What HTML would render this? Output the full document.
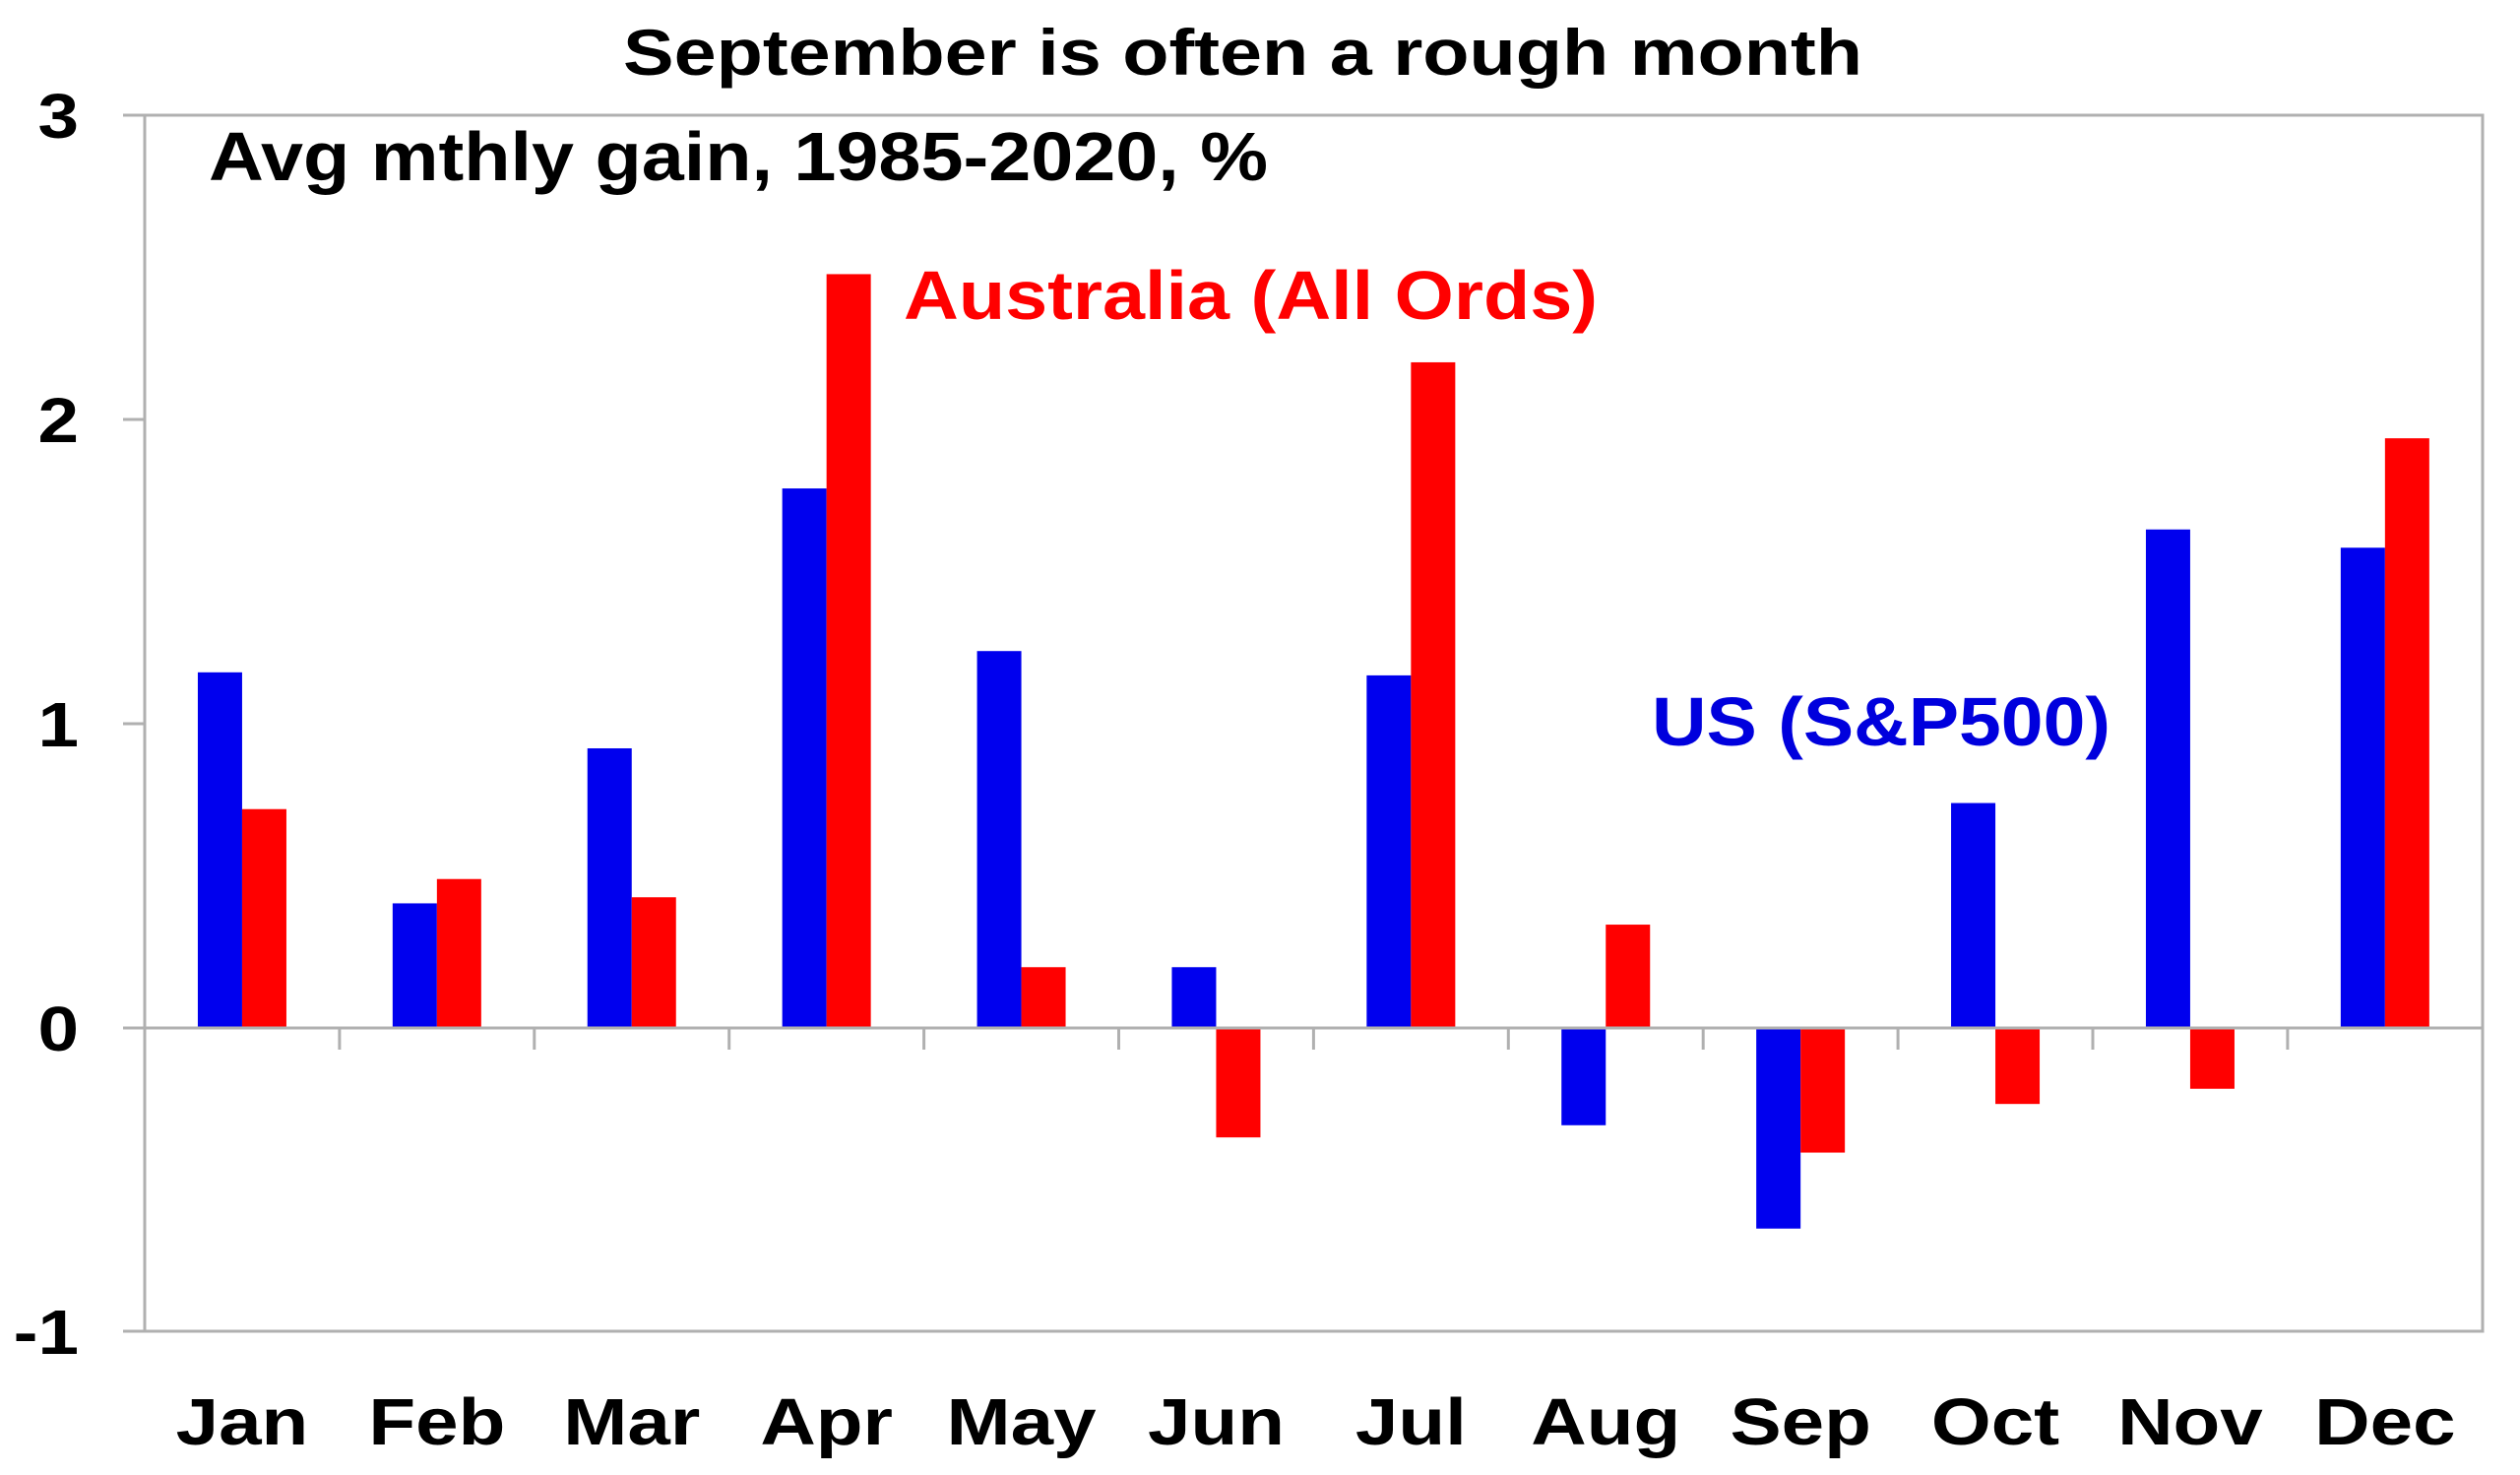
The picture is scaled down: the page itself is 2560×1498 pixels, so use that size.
<!DOCTYPE html>
<html><head><meta charset="utf-8"><style>
html,body{margin:0;padding:0;background:#fff;}
svg text{font-family:"Liberation Sans",Arial,sans-serif;font-weight:bold;}
</style></head><body>
<svg width="2560" height="1493" viewBox="0 0 2560 1493" xmlns="http://www.w3.org/2000/svg">
<rect x="0" y="0" width="2560" height="1493" fill="#fff"/>
<rect x="147" y="117" width="2375" height="1235" fill="none" stroke="#b0b0b0" stroke-width="3"/>
<g stroke="#b0b0b0" stroke-width="3">
<line x1="125" y1="117" x2="147" y2="117"/>
<line x1="125" y1="426" x2="147" y2="426"/>
<line x1="125" y1="735" x2="147" y2="735"/>
<line x1="125" y1="1044" x2="147" y2="1044"/>
<line x1="125" y1="1352" x2="147" y2="1352"/>
</g>
<g font-size="64" text-anchor="end" fill="#000">
<text transform="translate(80,140) scale(1.167,1)">3</text>
<text transform="translate(80,449) scale(1.167,1)">2</text>
<text transform="translate(80,758) scale(1.167,1)">1</text>
<text transform="translate(80,1067) scale(1.167,1)">0</text>
<text transform="translate(80,1375) scale(1.167,1)">-1</text>
</g>
<text x="633" y="76" font-size="66" fill="#000" textLength="1259" lengthAdjust="spacingAndGlyphs">September is often a rough month</text>
<text x="212" y="183" font-size="70" fill="#000" textLength="1076" lengthAdjust="spacingAndGlyphs">Avg mthly gain, 1985-2020, %</text>
<g id="bars"></g>
<line x1="147" y1="1044" x2="2522" y2="1044" stroke="#b0b0b0" stroke-width="3"/>
<g id="ticks" stroke="#b0b0b0" stroke-width="3"></g>
<text x="918" y="324" font-size="70" fill="#f00" textLength="705" lengthAdjust="spacingAndGlyphs">Australia (All Ords)</text>
<text x="1678" y="757" font-size="70" fill="#0000dd" textLength="466" lengthAdjust="spacingAndGlyphs">US (S&amp;P500)</text>
<g id="months" font-size="67" text-anchor="middle" fill="#000"></g>
<script>
var us=[1.17,0.41,0.92,1.775,1.24,0.2,1.16,-0.32,-0.66,0.74,1.64,1.58];
var au=[0.72,0.49,0.43,2.48,0.20,-0.36,2.19,0.34,-0.41,-0.25,-0.2,1.94];
var m=["Jan","Feb","Mar","Apr","May","Jun","Jul","Aug","Sep","Oct","Nov","Dec"];
var ns="http://www.w3.org/2000/svg",z=1044,u=308.7,gw=197.9,x0=147,bw=45;
var b=document.getElementById("bars"),t=document.getElementById("ticks"),mo=document.getElementById("months");
function r(x,v,c){var e=document.createElementNS(ns,"rect");var y=v>=0?z-v*u:z;e.setAttribute("x",x);e.setAttribute("y",y);e.setAttribute("width",bw);e.setAttribute("height",Math.abs(v)*u);e.setAttribute("fill",c);b.appendChild(e);}
for(var i=0;i<12;i++){var c=x0+gw*(i+0.5);r(c-bw,us[i],"#0000ee");r(c,au[i],"#ff0000");
var tx=document.createElementNS(ns,"text");tx.setAttribute("transform","translate("+c+",1467) scale(1.167,1)");tx.textContent=m[i];mo.appendChild(tx);
if(i>0){var l=document.createElementNS(ns,"line");var xx=x0+gw*i;l.setAttribute("x1",xx);l.setAttribute("x2",xx);l.setAttribute("y1",1044);l.setAttribute("y2",1066);t.appendChild(l);}}
</script>
</svg>
</body></html>
